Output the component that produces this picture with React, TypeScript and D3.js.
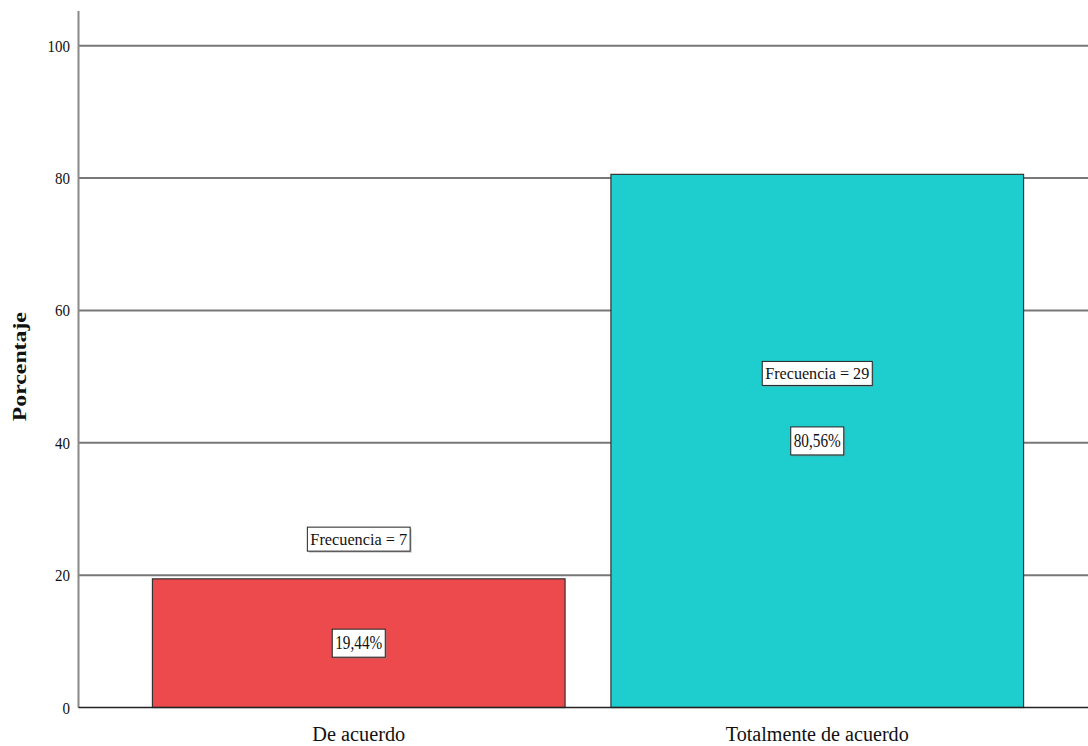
import React from "react";
import * as d3 from "d3";

const categories = ["De acuerdo", "Totalmente de acuerdo"];
const percentages = [19.44, 80.56];
const frequencies = [7, 29];
const percentLabels = ["19,44%", "80,56%"];
const yTicks = [0, 20, 40, 60, 80, 100];
const barColors = ["#EC4A4C", "#1ECDCD"];

const W = 1088;
const H = 746;
const SERIF = "'Liberation Serif', 'DejaVu Serif', 'Times New Roman', serif";

function LabelBox({ x, y, text, fs, h, tw }: { x: number; y: number; text: string; fs: number; h: number; tw: number }) {
  const w = tw + 6;
  return (
    <g>
      <rect x={x - w / 2 + 1.5} y={y - h / 2 + 1.5} width={w} height={h} fill="#888" opacity={0.5} />
      <rect x={x - w / 2} y={y - h / 2} width={w} height={h} fill="#fff" stroke="#222" strokeWidth={1} />
      <text
        x={x}
        y={y + fs * 0.35}
        textAnchor="middle"
        fontFamily={SERIF}
        fontSize={fs}
        fill="#111"
        textLength={tw}
        lengthAdjust="spacingAndGlyphs"
      >
        {text}
      </text>
    </g>
  );
}

export default function App() {
  const y = d3.scaleLinear().domain([0, 100]).range([707.5, 45.7]);
  const x = d3.scaleBand<string>().domain(categories).range([129.5, 1046.5]).paddingInner(0.1).paddingOuter(0.05);
  const axisX = 78.5;
  const xLabelWidths = [93, 183];
  return (
    <svg width={W} height={H} style={{ position: "absolute", left: 0, top: 0, background: "#fff" }}>
      {yTicks.filter((t) => t > 0).map((t) => (
        <line key={t} x1={axisX} x2={W} y1={y(t)} y2={y(t)} stroke="#777" strokeWidth={2} />
      ))}
      {categories.map((c, i) => {
        const x0 = x(c)!;
        const bw = x.bandwidth();
        const yTop = y(percentages[i]);
        const cx = x0 + bw / 2;
        const pctY = y(percentages[i] / 2);
        const freqY = i === 0 ? y(percentages[i] + 6) : y(percentages[i] / 2 + 10.2);
        const freqText = `Frecuencia = ${frequencies[i]}`;
        return (
          <g key={c}>
            <rect x={x0} y={yTop} width={bw} height={y(0) - yTop} fill={barColors[i]} stroke="#333" strokeWidth={1.2} />
            <LabelBox x={cx} y={freqY} text={freqText} fs={17} h={24} tw={freqText.length * 7.2 - 4} />
            <LabelBox x={cx} y={pctY} text={percentLabels[i]} fs={18} h={28} tw={47} />
            <text
              x={cx}
              y={741}
              textAnchor="middle"
              fontFamily={SERIF}
              fontSize={20}
              fill="#111"
              textLength={xLabelWidths[i]}
              lengthAdjust="spacingAndGlyphs"
            >
              {c}
            </text>
          </g>
        );
      })}
      <line x1={axisX} x2={axisX} y1={11} y2={y(0)} stroke="#888" strokeWidth={2} />
      <line x1={axisX} x2={W} y1={y(0)} y2={y(0)} stroke="#222" strokeWidth={1.5} />
      {yTicks.map((t) => (
        <text key={t} x={70} y={y(t) + 6} textAnchor="end" fontFamily={SERIF} fontSize={17} fill="#111"
          textLength={String(t).length * 7.5} lengthAdjust="spacingAndGlyphs">
          {t}
        </text>
      ))}
      <text
        transform={`translate(26,${y(51.5)}) rotate(-90)`}
        textAnchor="middle"
        fontFamily={SERIF}
        fontWeight="bold"
        fontSize={19}
        fill="#111"
        textLength={109}
        lengthAdjust="spacingAndGlyphs"
      >
        Porcentaje
      </text>
    </svg>
  );
}
